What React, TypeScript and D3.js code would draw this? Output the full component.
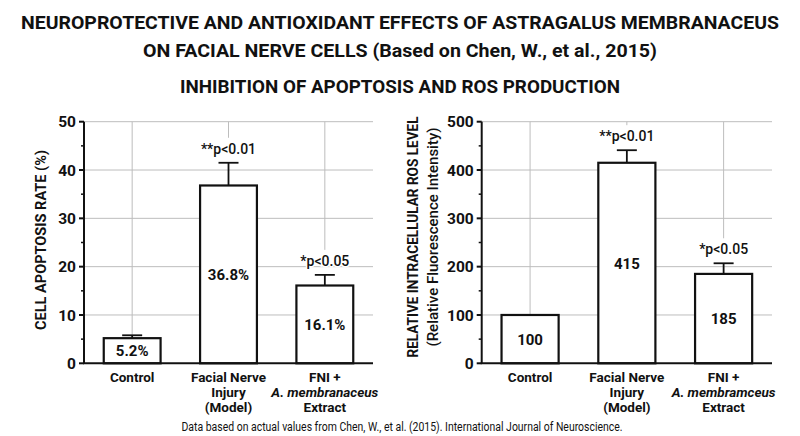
import React from 'react';
import * as d3 from 'd3';

// ---- data ----
const apoptosisValues = [5.2, 36.8, 16.1];
const apoptosisErrors = [0.6, 4.7, 2.2];
const apoptosisLabels = ['5.2%', '36.8%', '16.1%'];
const apoptosisTickLines = [
  ['Control'],
  ['Facial Nerve', 'Injury', '(Model)'],
  ['FNI +', 'A. membranaceus', 'Extract'],
];

const rosValues = [100, 415, 185];
const rosErrors = [0, 26, 22];
const rosLabels = ['100', '415', '185'];
const rosTickLines = [
  ['Control'],
  ['Facial Nerve', 'Injury', '(Model)'],
  ['FNI +', 'A. membramceus', 'Extract'],
];

const sigLabels = ['', '**p<0.01', '*p<0.05'];

const titleLines = [
  'NEUROPROTECTIVE AND ANTIOXIDANT EFFECTS OF ASTRAGALUS MEMBRANACEUS',
  'ON FACIAL NERVE CELLS (Based on Chen, W., et al., 2015)',
];
const subtitle = 'INHIBITION OF APOPTOSIS AND ROS PRODUCTION';
const footer = 'Data based on actual values from Chen, W., et al. (2015). International Journal of Neuroscience.';

const FONT = 'Roboto, sans-serif';
const INK = '#111';
const GRID = '#bdbdbd';

interface YTitleLine {
  text: string;
  x: number;
  size: number;
  weight: number;
  length: number;
}

interface PanelProps {
  left: number;
  right: number;
  top: number;
  bottom: number;
  yMax: number;
  step: number;
  values: number[];
  errors: number[];
  valueLabels: string[];
  tickLines: string[][];
  yTitle: YTitleLine[];
  yTitleCenter: number;
}

const BarPanel: React.FC<PanelProps> = ({
  left, right, top, bottom, yMax, step, values, errors, valueLabels, tickLines, yTitle, yTitleCenter,
}) => {
  const x = d3.scaleBand<number>().domain(d3.range(values.length)).range([left, right]).padding(0);
  const y = d3.scaleLinear().domain([0, yMax]).range([bottom, top]);
  const major = d3.range(0, yMax + step / 10, step);
  const minor = d3.range(step / 2, yMax, step);
  const bw = x.bandwidth() * 0.59;
  const cx = (i: number) => (x(i) as number) + x.bandwidth() / 2;
  const capY = (i: number) => y(values[i] + errors[i]);
  const sigY = (i: number) => capY(i) - 9;

  return (
    <g>
      {/* horizontal grid */}
      {major.filter(v => v > 0).map(v => (
        <line key={'h' + v} x1={left} x2={right} y1={y(v)} y2={y(v)} stroke={GRID} strokeWidth={1} />
      ))}
      {/* vertical grid at group centres, stopping above the p labels */}
      {values.map((_, i) => (
        <line key={'v' + i} x1={cx(i)} x2={cx(i)} y1={top}
          y2={sigLabels[i] ? sigY(i) - 16 : bottom} stroke={GRID} strokeWidth={1} />
      ))}

      {/* error bars */}
      {values.map((v, i) => errors[i] > 0 && (
        <g key={'e' + i} stroke={INK} strokeWidth={1.8}>
          <line x1={cx(i)} x2={cx(i)} y1={y(v)} y2={capY(i)} />
          <line x1={cx(i) - 10} x2={cx(i) + 10} y1={capY(i)} y2={capY(i)} />
        </g>
      ))}

      {/* bars */}
      {values.map((v, i) => (
        <rect key={'b' + i} x={cx(i) - bw / 2} y={y(v)} width={bw} height={y(0) - y(v)}
          fill="#fff" stroke={INK} strokeWidth={2.2} />
      ))}

      {/* value labels in the middle of each bar */}
      {values.map((v, i) => (
        <text key={'l' + i} x={cx(i)} y={(y(v) + y(0)) / 2 + 5.5} textAnchor="middle"
          fontFamily={FONT} fontWeight={700} fontSize={15} fill={INK}>{valueLabels[i]}</text>
      ))}

      {/* significance */}
      {values.map((_, i) => sigLabels[i] && (
        <text key={'s' + i} x={cx(i)} y={sigY(i)} textAnchor="middle"
          fontFamily={FONT} fontWeight={500} fontSize={14} fill={INK}
          stroke="#fff" strokeWidth={3} paintOrder="stroke">{sigLabels[i]}</text>
      ))}

      {/* y axis */}
      <line x1={left} x2={left} y1={top} y2={bottom} stroke={INK} strokeWidth={2} />
      {major.map(v => (
        <g key={'t' + v}>
          <line x1={left - 5} x2={left} y1={y(v)} y2={y(v)} stroke={INK} strokeWidth={2} />
          <text x={left - 8} y={y(v)} dy="0.36em" textAnchor="end"
            fontFamily={FONT} fontWeight={700} fontSize={15.5} fill={INK}>{v}</text>
        </g>
      ))}
      {minor.map(v => (
        <line key={'m' + v} x1={left - 3} x2={left} y1={y(v)} y2={y(v)} stroke={INK} strokeWidth={1.5} />
      ))}

      {/* x axis */}
      <line x1={left - 1} x2={right} y1={bottom} y2={bottom} stroke={INK} strokeWidth={2} />
      {tickLines.map((lines, i) => (
        <text key={'x' + i} textAnchor="middle" fontFamily={FONT} fontWeight={700} fontSize={13.5} fill={INK}>
          {lines.map((ln, j) => (
            <tspan key={j} x={cx(i)} y={bottom + 19 + j * 15}
              fontStyle={ln.startsWith('A.') ? 'italic' : 'normal'}>{ln}</tspan>
          ))}
        </text>
      ))}

      {/* y title */}
      {yTitle.map((t, k) => (
        <text key={'y' + k} transform={`translate(${t.x},${yTitleCenter}) rotate(-90)`} textAnchor="middle"
          fontFamily={FONT} fontWeight={t.weight} fontSize={t.size} fill={INK}
          textLength={t.length} lengthAdjust="spacingAndGlyphs">{t.text}</text>
      ))}
    </g>
  );
};

export default function App() {
  return (
    <svg width={800} height={436} viewBox="0 0 800 436"
      style={{ position: 'absolute', left: 0, top: 0, background: '#fff' }}>
      <rect width={800} height={436} fill="#fff" />

      <text x={400} y={29} textAnchor="middle" fontFamily={FONT} fontWeight={700}
        fontSize={19} fill={INK} textLength={758} lengthAdjust="spacingAndGlyphs">{titleLines[0]}</text>
      <text x={400} y={56.5} textAnchor="middle" fontFamily={FONT} fontWeight={700}
        fontSize={19} fill={INK} textLength={514} lengthAdjust="spacingAndGlyphs">{titleLines[1]}</text>
      <text x={400} y={93} textAnchor="middle" fontFamily={FONT} fontWeight={700}
        fontSize={19} fill={INK} textLength={440} lengthAdjust="spacingAndGlyphs">{subtitle}</text>

      <BarPanel left={84} right={373} top={121.7} bottom={363.3} yMax={50} step={10}
        values={apoptosisValues} errors={apoptosisErrors} valueLabels={apoptosisLabels}
        tickLines={apoptosisTickLines} yTitleCenter={240}
        yTitle={[{ text: 'CELL APOPTOSIS RATE (%)', x: 45.5, size: 15.5, weight: 700, length: 180 }]} />

      <BarPanel left={481.7} right={772} top={121.7} bottom={363.3} yMax={500} step={100}
        values={rosValues} errors={rosErrors} valueLabels={rosLabels}
        tickLines={rosTickLines} yTitleCenter={237}
        yTitle={[
          { text: 'RELATIVE INTRACELLULAR ROS LEVEL', x: 418, size: 15, weight: 700, length: 241 },
          { text: '(Relative Fluorescence Intensity)', x: 438, size: 14.5, weight: 500, length: 219 },
        ]} />

      <text x={402} y={431} textAnchor="middle" fontFamily={FONT} fontSize={12} fill={INK}
        textLength={441} lengthAdjust="spacingAndGlyphs">{footer}</text>
    </svg>
  );
}
